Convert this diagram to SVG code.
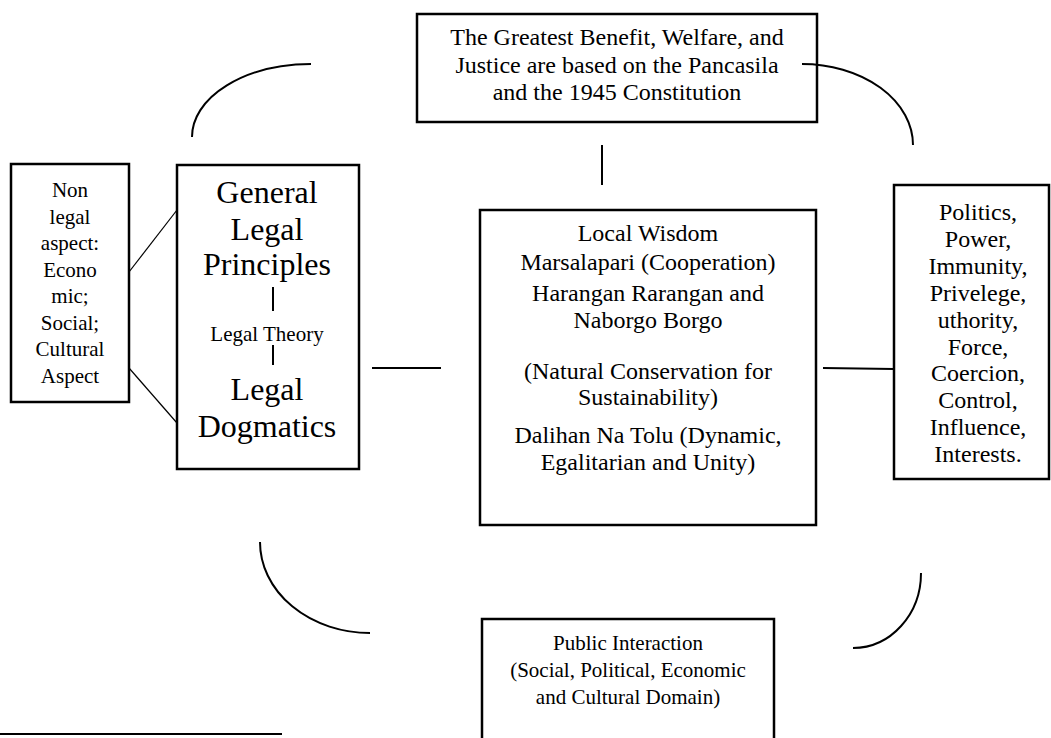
<svg xmlns="http://www.w3.org/2000/svg" width="1051" height="738" viewBox="0 0 1051 738">
<style>
.box{fill:#fff;stroke:#000;stroke-width:2.5}
.t{font-family:"Liberation Serif","Times New Roman",serif;fill:#000;text-anchor:middle}
.f24{font-size:24px}
.f21{font-size:21px}
.f32{font-size:32px}
.ln{fill:none;stroke:#000;stroke-width:2}
.thin{fill:none;stroke:#000;stroke-width:1.2}
</style>
<rect width="1051" height="738" fill="#fff"/>
<g id="top">
<rect class="box" x="417" y="14" width="400" height="108"/>
<text class="t f24" x="617" y="45">The Greatest Benefit, Welfare, and</text>
<text class="t f24" x="617" y="72.5">Justice are based on the Pancasila</text>
<text class="t f24" x="617" y="100">and the 1945 Constitution</text>
</g>
<g id="nonlegal">
<rect class="box" x="11" y="164" width="118" height="238"/>
<text class="t f21" x="70" y="197">Non</text>
<text class="t f21" x="70" y="223.5">legal</text>
<text class="t f21" x="70" y="250">aspect:</text>
<text class="t f21" x="70" y="276.5">Econo</text>
<text class="t f21" x="70" y="303">mic;</text>
<text class="t f21" x="70" y="329.5">Social;</text>
<text class="t f21" x="70" y="356">Cultural</text>
<text class="t f21" x="70" y="382.5">Aspect</text>
</g>
<g id="principles">
<rect class="box" x="177" y="165" width="182" height="304"/>
<text class="t f32" x="267" y="203">General</text>
<text class="t f32" x="267" y="240">Legal</text>
<text class="t f32" x="267" y="275">Principles</text>
<line class="ln" x1="273" y1="287" x2="273" y2="311"/>
<text class="t f21" x="267" y="341">Legal Theory</text>
<line class="ln" x1="273" y1="345" x2="273" y2="365"/>
<text class="t f32" x="267" y="400">Legal</text>
<text class="t f32" x="267" y="437">Dogmatics</text>
</g>
<g id="wisdom">
<rect class="box" x="480" y="210" width="336" height="315"/>
<text class="t f24" x="648" y="241">Local Wisdom</text>
<text class="t f24" x="648" y="270">Marsalapari (Cooperation)</text>
<text class="t f24" x="648" y="301">Harangan Rarangan and</text>
<text class="t f24" x="648" y="328">Naborgo Borgo</text>
<text class="t f24" x="648" y="379">(Natural Conservation for</text>
<text class="t f24" x="648" y="405">Sustainability)</text>
<text class="t f24" x="648" y="443">Dalihan Na Tolu (Dynamic,</text>
<text class="t f24" x="648" y="470">Egalitarian and Unity)</text>
</g>
<g id="politics">
<rect class="box" x="894" y="185" width="155" height="294"/>
<text class="t f24" x="978" y="220">Politics,</text>
<text class="t f24" x="978" y="247">Power,</text>
<text class="t f24" x="978" y="274">Immunity,</text>
<text class="t f24" x="978" y="301">Privelege,</text>
<text class="t f24" x="978" y="328">uthority,</text>
<text class="t f24" x="978" y="355">Force,</text>
<text class="t f24" x="978" y="381">Coercion,</text>
<text class="t f24" x="978" y="408">Control,</text>
<text class="t f24" x="978" y="435">Influence,</text>
<text class="t f24" x="978" y="462">Interests.</text>
</g>
<g id="public">
<rect class="box" x="482" y="619" width="292" height="140"/>
<text class="t f21" x="628" y="650">Public Interaction</text>
<text class="t f21" x="628" y="677">(Social, Political, Economic</text>
<text class="t f21" x="628" y="704">and Cultural Domain)</text>
</g>
<g id="connectors">
<path class="ln" d="M192,137 A119,73 0 0 1 311,64"/>
<path class="ln" d="M802,64 A111,81 0 0 1 913,145"/>
<line class="ln" x1="602" y1="145" x2="602" y2="185"/>
<path class="ln" d="M260,542 A110,91 0 0 0 370,633"/>
<path class="ln" d="M853,648 A68,75 0 0 0 921,573"/>
<line class="ln" x1="0" y1="734" x2="282" y2="734"/>
<line class="ln" x1="372" y1="368" x2="441" y2="368"/>
<line class="ln" x1="823" y1="368" x2="894" y2="369"/>
<line class="thin" x1="129" y1="272" x2="177" y2="210"/>
<line class="thin" x1="129" y1="368" x2="177" y2="423"/>
</g>
</svg>
